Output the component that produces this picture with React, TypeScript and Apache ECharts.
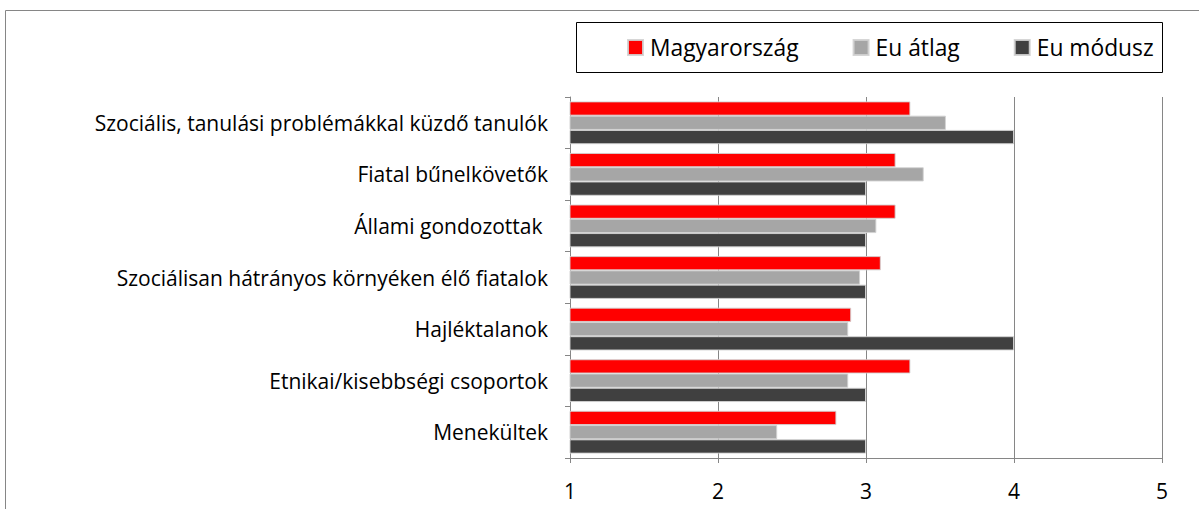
import React, { useEffect, useRef } from "react";
import * as echarts from "echarts";

const categories = [
  "Szociális, tanulási problémákkal küzdő tanulók",
  "Fiatal bűnelkövetők",
  "Állami gondozottak ",
  "Szociálisan hátrányos környéken élő fiatalok",
  "Hajléktalanok",
  "Etnikai/kisebbségi csoportok",
  "Menekültek",
];
const seriesNames = ["Magyarország", "Eu átlag", "Eu módusz"];
const magyarorszag = [3.3, 3.2, 3.2, 3.1, 2.9, 3.3, 2.8];
const euAtlag = [3.54, 3.39, 3.07, 2.96, 2.88, 2.88, 2.4];
const euModusz = [4, 3, 3, 3, 4, 3, 3];
const colors = ["#ff0000", "#a6a6a6", "#404040"];

const FONT = "'Open Sans', 'Noto Sans', sans-serif";

export default function App() {
  const ref = useRef<HTMLDivElement>(null);
  useEffect(() => {
    document.body.style.margin = "0";
    const chart = echarts.init(ref.current!, null, { renderer: "svg" });
    const values = [magyarorszag, euAtlag, euModusz];
    chart.setOption({
      animation: false,
      textStyle: { fontFamily: FONT },
      graphic: [
        {
          type: "rect",
          shape: { x: 5.5, y: 10.5, width: 1300, height: 600 },
          style: { fill: "none", stroke: "#868686", lineWidth: 1 },
          silent: true,
        },
        {
          type: "rect",
          shape: { x: 576.5, y: 22.5, width: 586, height: 50 },
          style: { fill: "#fff", stroke: "#000", lineWidth: 1 },
          silent: true,
        },
      ],
      legend: {
        top: 36,
        left: 627,
        padding: 0,
        itemWidth: 15,
        itemHeight: 15,
        itemGap: 54,
        icon: "rect",
        textStyle: { fontSize: 22.8, color: "#000", fontFamily: FONT, padding: [0, 0, 0, 2] },
        data: seriesNames,
      },
      grid: { left: 570, right: 37, top: 97, bottom: 51 },
      xAxis: {
        type: "value",
        min: 1,
        max: 5,
        interval: 1,
        axisLine: { show: true, lineStyle: { color: "#868686" } },
        axisTick: { show: true, length: 5, lineStyle: { color: "#868686" } },
        splitLine: { show: true, lineStyle: { color: "#868686" } },
        axisLabel: { fontSize: 21, color: "#000", margin: 22, fontFamily: FONT },
      },
      yAxis: {
        type: "category",
        inverse: true,
        data: categories,
        axisLine: { show: true, lineStyle: { color: "#868686" } },
        axisTick: { show: true, length: 5, lineStyle: { color: "#868686" } },
        axisLabel: { fontSize: 21, color: "#000", margin: 22, fontFamily: FONT },
      },
      series: seriesNames.map((name, i) => ({
        name,
        type: "bar",
        data: values[i],
        barGap: "0%",
        barCategoryGap: "17%",
        itemStyle: { color: colors[i], borderColor: "rgba(210,210,210,0.9)", borderWidth: 1 },
      })),
    });
    return () => chart.dispose();
  }, []);
  return <div ref={ref} style={{ width: 1199, height: 509 }} />;
}
